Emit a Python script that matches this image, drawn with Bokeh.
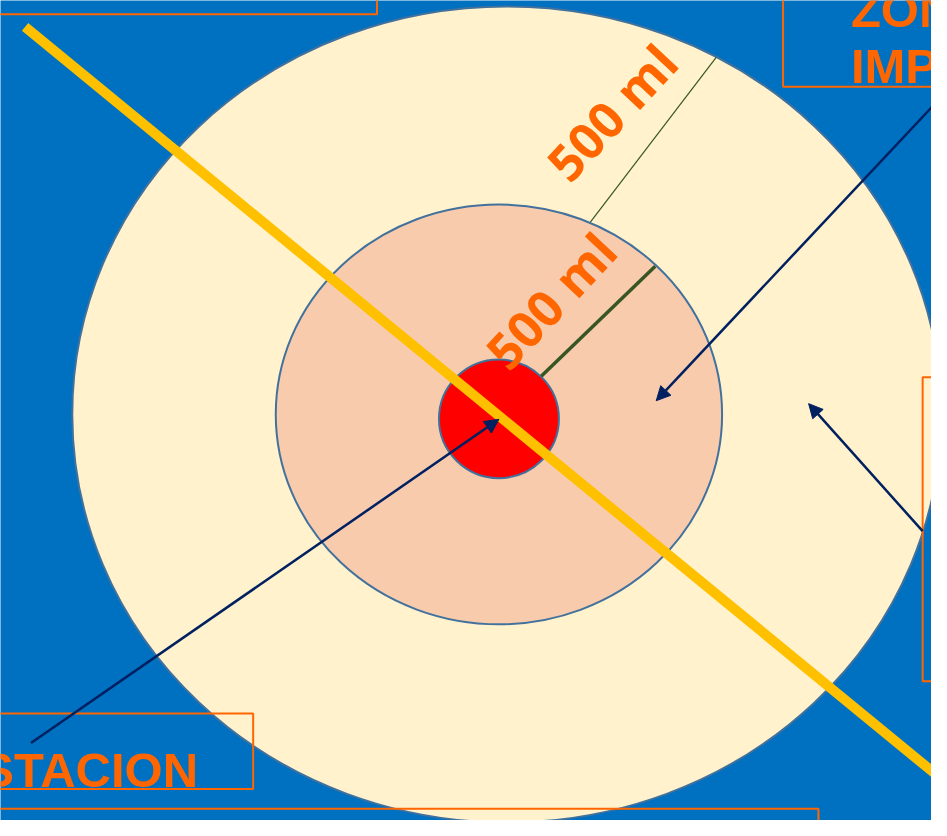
import math
from bokeh.plotting import figure
from bokeh.models import Range1d, Arrow, NormalHead
from bokeh.core.properties import value
from bokeh.embed import file_html
from bokeh.resources import INLINE

# ---- data (pixel coordinates of the reference, y grows downward) ----
ring_names = ["outer", "middle", "core"]
ring_cx = [515, 507, 507]
ring_cy = [422, 422, 426.5]
ring_rx = [442, 227, 61]
ring_ry = [416, 214, 60.5]
ring_colors = ["#FFF2CC", "#F8CBAD", "#FF0000"]

volume_labels = ["500 ml", "500 ml"]
label_x = [622, 560]
label_y = [114, 306]
label_angle_deg = [47, 47]

radius_x0 = [550, 600]
radius_y0 = [383, 226]
radius_x1 = [666, 728]
radius_y1 = [271, 58]
radius_width = [3.5, 1.2]

diag_x = [25, 960]
diag_y = [27, 796]

arrow_x0 = [948, 938, 31]
arrow_y0 = [108, 541, 757]
arrow_x1 = [667, 822, 507]
arrow_y1 = [408, 411, 427]

box_left = [-20, 796, 938, -20, -20]
box_right = [383, 980, 980, 257, 832]
box_top = [-20, -20, 384, 727, 824]
box_bottom = [14, 88, 694, 804, 900]

box_texts = ["ZON", "IMP", "STACION"]
box_text_x = [865, 865, 201]
box_text_y = [10, 67, 785]
box_text_align = ["left", "left", "right"]

ORANGE = "#FF6600"
NAVY = "#002060"


def fy(v):
    return [-t for t in v]


p = figure(width=931, height=820,
           x_range=Range1d(0, 947), y_range=Range1d(-836, 0),
           output_backend="svg", toolbar_location=None,
           x_axis_type=None, y_axis_type=None, min_border=0,
           background_fill_color="#0070C0", border_fill_color="#0070C0",
           outline_line_color=None)
p.grid.visible = False

# rings
p.ellipse(x=ring_cx, y=fy(ring_cy),
          width=[2 * r for r in ring_rx], height=[2 * r for r in ring_ry],
          fill_color=ring_colors, line_color="#41719C", line_width=2)

# radius lines
p.segment(x0=radius_x0, y0=fy(radius_y0), x1=radius_x1, y1=fy(radius_y1),
          line_color="#375623", line_width=radius_width)

# boxes
p.quad(left=box_left, right=box_right, top=fy(box_top), bottom=fy(box_bottom),
       fill_color=None, line_color=ORANGE, line_width=2)

# box texts
p.text(x=box_text_x, y=fy(box_text_y), text=box_texts,
       text_align=box_text_align, text_baseline="alphabetic",
       text_font=value("Liberation Sans"), text_font_style="bold",
       text_font_size="49px", text_color=ORANGE)

# arrows
for x0, y0, x1, y1 in zip(arrow_x0, arrow_y0, arrow_x1, arrow_y1):
    p.add_layout(Arrow(end=NormalHead(size=14, fill_color=NAVY, line_color=NAVY),
                       x_start=x0, y_start=-y0, x_end=x1, y_end=-y1,
                       line_color=NAVY, line_width=2.5))

# yellow diagonal
p.line(x=diag_x, y=fy(diag_y), line_color="#FFC000", line_width=10)

# volume labels
p.text(x=label_x, y=fy(label_y), text=volume_labels,
       angle=[math.radians(a) for a in label_angle_deg],
       text_align="center", text_baseline="middle",
       text_font=value("Open Sans"), text_font_style="bold",
       text_font_size="50px", text_color=ORANGE)

open("out.html", "w").write(file_html(p, INLINE))
